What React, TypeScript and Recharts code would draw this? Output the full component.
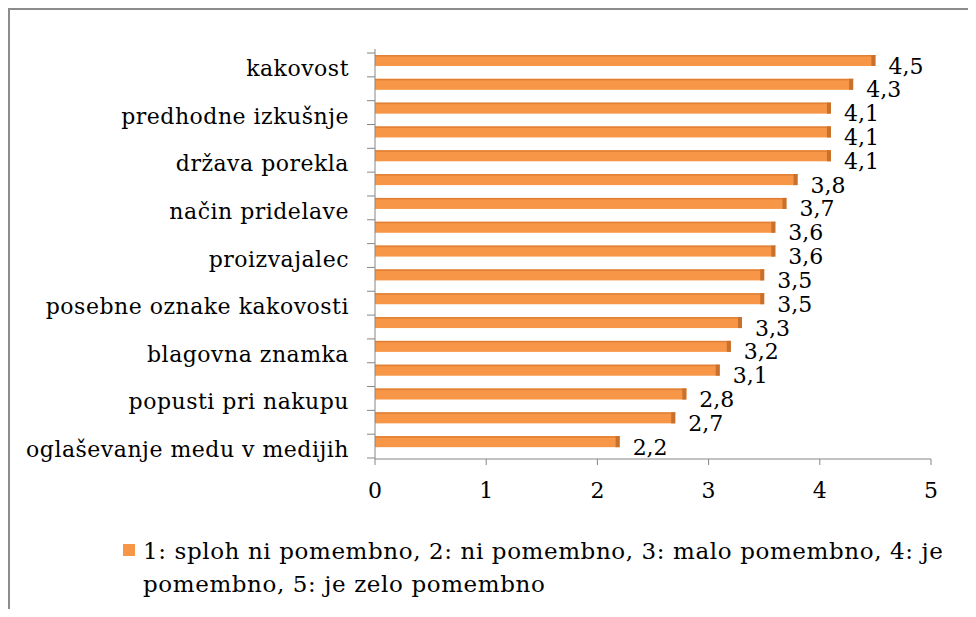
import { BarChart, Bar, XAxis, YAxis, Legend, LabelList } from "recharts";

const categories = [
  "kakovost",
  "",
  "predhodne izkušnje",
  "",
  "država porekla",
  "",
  "način pridelave",
  "",
  "proizvajalec",
  "",
  "posebne oznake kakovosti",
  "",
  "blagovna znamka",
  "",
  "popusti pri nakupu",
  "",
  "oglaševanje medu v medijih",
];
const values = [4.5, 4.3, 4.1, 4.1, 4.1, 3.8, 3.7, 3.6, 3.6, 3.5, 3.5, 3.3, 3.2, 3.1, 2.8, 2.7, 2.2];
const xTicks = [0, 1, 2, 3, 4, 5];
const legendText =
  "1: sploh ni pomembno, 2: ni pomembno, 3: malo pomembno, 4: je pomembno, 5: je zelo pomembno";

const data = categories.map((name, i) => ({ id: i, name, value: values[i] }));

const FONT = "'DejaVu Serif', serif";
const ORANGE = "#F79646";
const AXIS = "#868686";
const BAND = 404 / 17;

const fmt = (v: number) => String(v).replace(".", ",");

const YTick = (props: any) => {
  const { x, y, payload } = props;
  const label = categories[payload.value];
  const ax = x + 26;
  return (
    <g>
      <line x1={ax - 8} x2={ax} y1={y - BAND / 2 + 4} y2={y - BAND / 2 + 4} stroke={AXIS} />
      {payload.value === categories.length - 1 && (
        <line x1={ax - 8} x2={ax} y1={y + BAND / 2 + 4} y2={y + BAND / 2 + 4} stroke={AXIS} />
      )}
      {label && (
        <text
          x={x}
          y={y + 15}
          textAnchor="end"
          fontFamily={FONT}
          fontSize={22}
          letterSpacing={0.5}
          fill="#000"
        >
          {label}
        </text>
      )}
    </g>
  );
};

const BarShape = (props: any) => {
  const { x, y, width, height } = props;
  if (!width || width <= 0) return null;
  return (
    <g>
      <rect x={x} y={y} width={width} height={height} fill={ORANGE} />
      <rect x={x} y={y} width={width} height={1.5} fill="#E07F35" />
      <rect x={x + width - 4} y={y} width={4} height={height} fill="#C8702C" />
    </g>
  );
};

const ValueLabel = (props: any) => {
  const { x, y, width, height, value } = props;
  return (
    <text
      x={x + width + 13}
      y={y + height / 2 + 13}
      fontFamily={FONT}
      fontSize={22}
      fill="#000"
    >
      {fmt(value)}
    </text>
  );
};

const LegendContent = () => (
  <div
    style={{
      display: "flex",
      fontFamily: FONT,
      fontSize: 23,
      letterSpacing: 0.6,
      lineHeight: "33px",
      color: "#000",
    }}
  >
    <span
      style={{
        display: "inline-block",
        width: 12,
        height: 12,
        background: ORANGE,
        marginTop: 9,
        marginRight: 8,
        flex: "none",
      }}
    />
    <span>{legendText}</span>
  </div>
);

export default function App() {
  return (
    <div
      style={{
        width: 958,
        height: 599,
        borderTop: "2px solid #8c8c8c",
        borderLeft: "2px solid #8c8c8c",
        background: "#fff",
      }}
    >
      <BarChart
        width={958}
        height={599}
        data={data}
        layout="vertical"
        margin={{ top: 39, right: 37, left: 0, bottom: 13 }}
        barCategoryGap={6}
      >
        <XAxis
          type="number"
          domain={[0, 5]}
          ticks={xTicks}
          stroke={AXIS}
          tickSize={6}
          tickMargin={17}
          height={71}
          tick={{ fontFamily: FONT, fontSize: 22, fill: "#000" }}
        />
        <YAxis
          type="category"
          dataKey="id"
          width={365}
          interval={0}
          tickLine={false}
          tickSize={0}
          tickMargin={26}
          stroke={AXIS}
          padding={{ top: 0, bottom: 5 }}
          tick={<YTick />}
        />
        <Legend
          verticalAlign="bottom"
          content={<LegendContent />}
          wrapperStyle={{ position: "absolute", left: 113, top: 525, width: 845 }}
        />
        <Bar dataKey="value" barSize={11} shape={<BarShape />} isAnimationActive={false}>
          <LabelList dataKey="value" content={<ValueLabel />} />
        </Bar>
      </BarChart>
    </div>
  );
}
